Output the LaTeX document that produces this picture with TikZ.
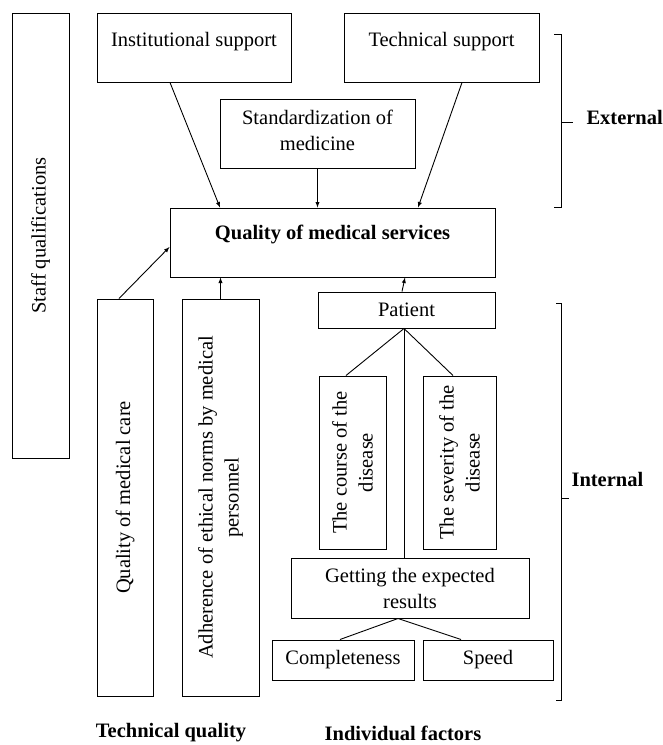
\documentclass[tikz,border=0pt]{standalone}
\usepackage{fontspec}
\setmainfont{Liberation Serif}
\usetikzlibrary{calc}

\begin{document}
\begin{tikzpicture}[x=1pt, y=-1pt, font=\fontsize{20.5}{26}\selectfont,
    box/.style={draw, line width=1pt, inner sep=0pt, align=center},
    vbox/.style={box, rotate=90},
    arr/.style={line width=0.9pt, -latex},
    link/.style={line width=0.9pt}]

    \useasboundingbox (0,0) rectangle (663,745);

    % external factors
    \node[vbox, minimum width=445pt, minimum height=57pt] (staff) at (40.5,235.5) {Staff qualifications};
    \node[box, minimum width=194pt, minimum height=69pt, text depth=15.5pt] (inst) at (194,47.5) {Institutional support};
    \node[box, minimum width=195pt, minimum height=69pt, text depth=15.5pt] (tech) at (441.5,47.5) {Technical support};
    \node[box, minimum width=195pt, minimum height=69pt, text depth=6pt] (stand) at (317.5,133.5) {Standardization of\\medicine};
    \node[box, minimum width=325pt, minimum height=69pt, text depth=19.5pt, font=\fontsize{20.5}{26}\selectfont\bfseries] (qms) at (332.5,242.5) {Quality of medical services};

    % technical quality
    \node[vbox, minimum width=397pt, minimum height=56pt] (qmc) at (125,497.5) {Quality of medical care};
    \node[vbox, minimum width=397pt, minimum height=77pt] (adh) at (220.5,497.5) {Adherence of ethical norms by medical\\personnel};

    % individual factors
    \node[box, minimum width=177pt, minimum height=36pt] (patient) at (406.5,310) {Patient};
    \node[vbox, minimum width=173pt, minimum height=67pt] (course) at (352.5,462.5) {The course of the\\disease};
    \node[vbox, minimum width=173pt, minimum height=73pt] (sever) at (459.5,462.5) {The severity of the\\disease};
    \node[box, minimum width=238pt, minimum height=60pt] (getting) at (410,588) {Getting the expected\\results};
    \node[box, minimum width=142pt, minimum height=40pt] (complete) at (343,660) {Completeness};
    \node[box, minimum width=130pt, minimum height=40pt] (speed) at (488,660) {Speed};

    % arrows into the quality node
    \draw[arr] ($(inst.south)+(-24,0)$) -- ($(qms.north)+(-112.5,0)$);
    \draw[arr] ($(tech.south)+(20.5,0)$) -- ($(qms.north)+(85.5,0)$);
    \draw[arr] (stand.south) -- (stand.south |- qms.north);
    \draw[arr] ($(qmc.east)+(-6,0)$) -- ($(qms.west)+(0,4.5)$);
    \draw[arr] (adh.east) -- (adh.east |- qms.south);
    \draw[arr] ($(patient.north)+(-4.5,0)$) -- ($(patient.north |- qms.south)+(-1.5,0)$);

    % patient tree
    \coordinate (pbot) at ($(patient.south)+(-2.5,0)$);
    \draw[link] ($(course.east)+(-6.5,0)$) -- (pbot) -- ($(sever.east)+(-6.5,0)$);
    \draw[link] (pbot) -- (pbot |- getting.north);
    \coordinate (gbot) at ($(getting.south)+(-12,0)$);
    \draw[link] ($(complete.north)+(-3,0)$) -- (gbot) -- ($(speed.north)+(-27,0)$);

    % brackets
    \draw[link] (554,34) -- (561,34) -- (561,207) -- (554,207);
    \draw[link] (561,122) -- (573,122);
    \draw[link] (556,303) -- (561,303) -- (561,700) -- (556,700);
    \draw[link] (561,498) -- (569,498);
    \node[anchor=west, font=\fontsize{20.5}{26}\selectfont\bfseries] (ext) at (583,117) {External};
    \node[anchor=west, font=\fontsize{20.5}{26}\selectfont\bfseries] (int) at (568,479) {Internal};

    % bottom captions
    \node[font=\fontsize{20.5}{26}\selectfont\bfseries] (techq) at (171,733) {Technical quality};
    \node[font=\fontsize{20.5}{26}\selectfont\bfseries] (indiv) at (403,733) {Individual factors};

\end{tikzpicture}
\end{document}
